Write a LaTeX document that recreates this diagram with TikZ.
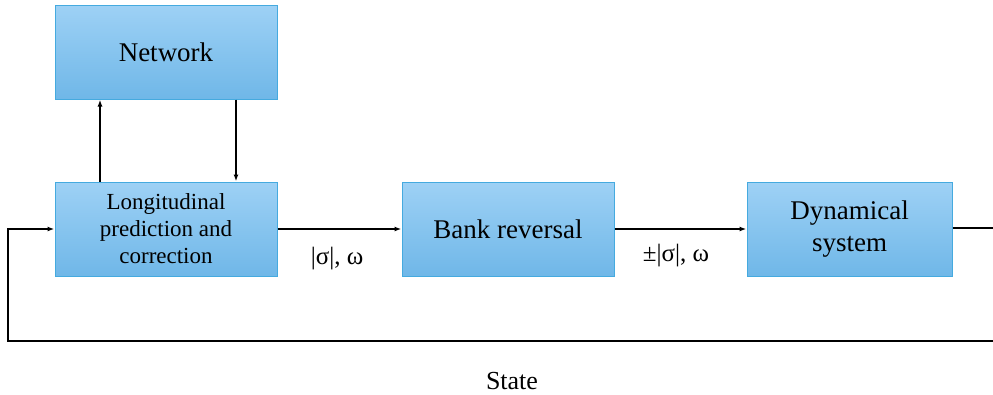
\documentclass[tikz,border=0pt]{standalone}
\usepackage{fontspec}
\setmainfont{Liberation Serif}
\newfontfamily\diagfont{Liberation Serif}
\usetikzlibrary{arrows.meta}
\definecolor{boxtop}{HTML}{9ED1F5}
\definecolor{boxbot}{HTML}{6FB7E8}
\definecolor{boxline}{HTML}{45AADF}
\tikzset{
  block/.style={draw=boxline, line width=1pt, top color=boxtop, bottom color=boxbot,
    minimum height=94pt, align=center, inner sep=2pt, font=\diagfont\fontsize{27}{32}\selectfont},
  flow/.style={line width=1.4pt, -{Latex[length=7pt,width=5pt]}},
  plain/.style={line width=1.4pt},
  lbl/.style={font=\diagfont\fontsize{25}{30}\selectfont, inner sep=0pt}
}
\begin{document}
\begin{tikzpicture}[x=1pt,y=-1pt]
\useasboundingbox (0,0) rectangle (993,394);
% blocks
\node[block, minimum width=222pt] (net) at (166,52) {Network};
\node[block, minimum width=222pt, font=\diagfont\fontsize{23}{27}\selectfont] (lon) at (166,229)
  {Longitudinal\\prediction and\\correction};
\node[block, minimum width=212pt] (bank) at (508,229) {Bank reversal};
\node[block, minimum width=205pt] (dyn) at (849.5,229.5) {Dynamical\\system};
% exchange with the network
\draw[flow] (lon.north -| 100,0) -- (net.south -| 100,0);
\draw[flow] (net.south -| 236,0) -- (lon.north -| 236,0);
% forward chain
\draw[flow] (lon.east) -- (bank.west);
\draw[flow] (bank.east) -- (bank.east -| dyn.west);
\coordinate (outR) at (993,228);
\draw[plain] (dyn.east |- outR) -- (outR);
% state feedback loop
\coordinate (fbR) at (993,341);
\coordinate (fbL) at (8,341);
\draw[flow] (fbR) -- (fbL) |- (lon.west);
% labels
\node[lbl] (l1) at (337,259) {|σ|, ω};
\node[lbl] (l2) at (676,256) {±|σ|, ω};
\node[lbl, font=\diagfont\fontsize{26}{30}\selectfont] (st) at (512,381) {State};
\end{tikzpicture}
\end{document}
